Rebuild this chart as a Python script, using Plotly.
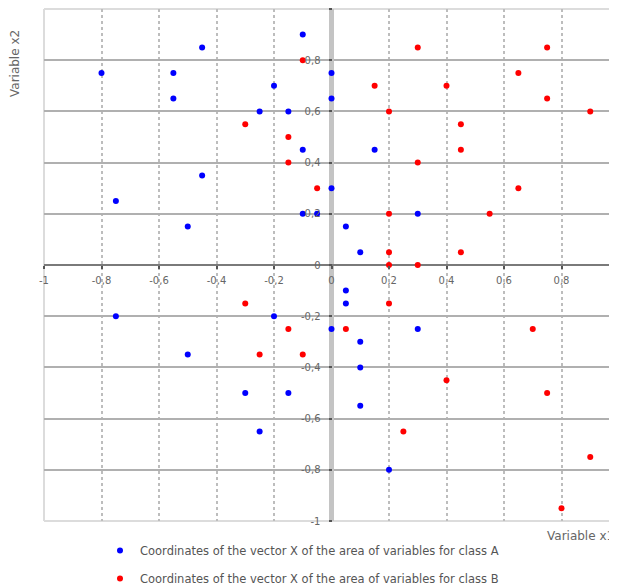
import plotly.graph_objects as go

# ---- data ----
class_a_x = [-0.1, -0.45, -0.8, -0.55, 0.0, -0.2, -0.55, 0.0, -0.25, -0.15, -0.1, 0.15, -0.45, 0.0,
             -0.75, -0.1, -0.05, 0.3, -0.5, 0.05, 0.1, 0.05, 0.05, -0.75, -0.2, 0.0, 0.3, 0.1, -0.5,
             0.1, -0.3, -0.15, 0.1, -0.25, 0.2]
class_a_y = [0.9, 0.85, 0.75, 0.75, 0.75, 0.7, 0.65, 0.65, 0.6, 0.6, 0.45, 0.45, 0.35, 0.3,
             0.25, 0.2, 0.2, 0.2, 0.15, 0.15, 0.05, -0.1, -0.15, -0.2, -0.2, -0.25, -0.25, -0.3, -0.35,
             -0.4, -0.5, -0.5, -0.55, -0.65, -0.8]
class_b_x = [-0.1, 0.3, 0.75, 0.65, 0.15, 0.4, 0.75, 0.2, 0.9, -0.3, 0.45, -0.15, 0.45, -0.15,
             0.3, -0.05, 0.65, 0.2, 0.55, 0.2, 0.45, 0.2, 0.3, -0.3, 0.2, -0.15, 0.05, 0.7,
             -0.25, -0.1, 0.4, 0.75, 0.25, 0.9, 0.8]
class_b_y = [0.8, 0.85, 0.85, 0.75, 0.7, 0.7, 0.65, 0.6, 0.6, 0.55, 0.55, 0.5, 0.45, 0.4,
             0.4, 0.3, 0.3, 0.2, 0.2, 0.05, 0.05, 0.0, 0.0, -0.15, -0.15, -0.25, -0.25, -0.25,
             -0.35, -0.35, -0.45, -0.5, -0.65, -0.75, -0.95]

tick_vals = [-1, -0.8, -0.6, -0.4, -0.2, 0, 0.2, 0.4, 0.6, 0.8, 1]
tick_text = ["-1", "-0,8", "-0,6", "-0,4", "-0,2", "0", "0,2", "0,4", "0,6", "0,8", "1"]

name_a = "Coordinates of the vector X of the area of variables for class A"
name_b = "Coordinates of the vector X of the area of variables for class B"

FONT = "DejaVu Sans, Verdana, sans-serif"
OFF = 8  # default page body margin
W, H = 617 - OFF, 588 - OFF
ML, MR, MT, MB = 44 - OFF, 0, 9 - OFF, 67
PW = W - ML - MR
PH = H - MT - MB
x_range = [-1, -1 + PW / 287.5]
y_range = [-1, 1]


def px_x(page_x):
    return (page_x - OFF - ML) / PW


def px_y(page_y):
    return 1 - (page_y - OFF - MT) / PH


fig = go.Figure()
fig.add_trace(go.Scatter(x=class_a_x, y=class_a_y, mode="markers", name=name_a,
                         legendgroup="a",
                         marker=dict(color="#0000ff", size=6, symbol="circle")))
fig.add_trace(go.Scatter(x=class_b_x, y=class_b_y, mode="markers", name=name_b,
                         legendgroup="b",
                         marker=dict(color="#ff0000", size=6, symbol="circle")))

x0_paper = (0 - x_range[0]) / (x_range[1] - x_range[0])
y0_paper = (0 - y_range[0]) / (y_range[1] - y_range[0])

fig.update_layout(
    width=W, height=H,
    margin=dict(l=ML, r=MR, t=MT, b=MB, autoexpand=False),
    paper_bgcolor="white", plot_bgcolor="white",
    font=dict(family=FONT, size=10, color="#555"),
    xaxis=dict(
        range=x_range, tickvals=tick_vals, ticktext=tick_text,
        showgrid=True, gridcolor="#bdbdbd", gridwidth=2, griddash="3px,3px",
        zeroline=True, zerolinecolor="#c4c4c4", zerolinewidth=5,
        showline=False, anchor="free", position=y0_paper,
        ticks="outside", ticklen=3, tickcolor="#555", tickwidth=2,
        ticklabelstandoff=3,
        tickfont=dict(family=FONT, size=10, color="#666"), automargin=False,
    ),
    yaxis=dict(
        range=y_range, tickvals=tick_vals, ticktext=tick_text,
        showgrid=True, gridcolor="#b0b0b0", gridwidth=2,
        zeroline=True, zerolinecolor="#7a7a7a", zerolinewidth=2,
        showline=False, anchor="free", position=x0_paper,
        ticks="outside", ticklen=3, tickcolor="#555", tickwidth=2,
        ticklabelstandoff=6,
        tickfont=dict(family=FONT, size=10, color="#666"), automargin=False,
    ),
    showlegend=True,
    legend=dict(
        orientation="v", x=px_x(100), xanchor="left",
        y=px_y(536), yanchor="top", tracegroupgap=9,
        font=dict(family=FONT, size=11.5, color="#555"), bgcolor="rgba(0,0,0,0)",
    ),
    shapes=[
        dict(type="line", xref="paper", yref="paper", x0=0, x1=0, y0=0, y1=1,
             line=dict(color="#dcdcdc", width=2), layer="below"),
        dict(type="line", xref="paper", yref="paper", x0=0, x1=1, y0=1, y1=1,
             line=dict(color="#dcdcdc", width=2), layer="below"),
        dict(type="line", xref="paper", yref="paper", x0=0, x1=1, y0=0, y1=0,
             line=dict(color="#dcdcdc", width=2), layer="below"),
    ],
    annotations=[
        dict(text="Variable x2", xref="paper", yref="paper", x=px_x(15),
             y=px_y(64), textangle=-90, showarrow=False,
             font=dict(family=FONT, size=12, color="#666"), xanchor="center", yanchor="middle"),
        dict(text="Variable x1", xref="paper", yref="paper", x=px_x(616),
             y=px_y(536), showarrow=False,
             font=dict(family=FONT, size=12, color="#666"), xanchor="right", yanchor="middle"),
    ],
)

fig.write_html("out.html")
